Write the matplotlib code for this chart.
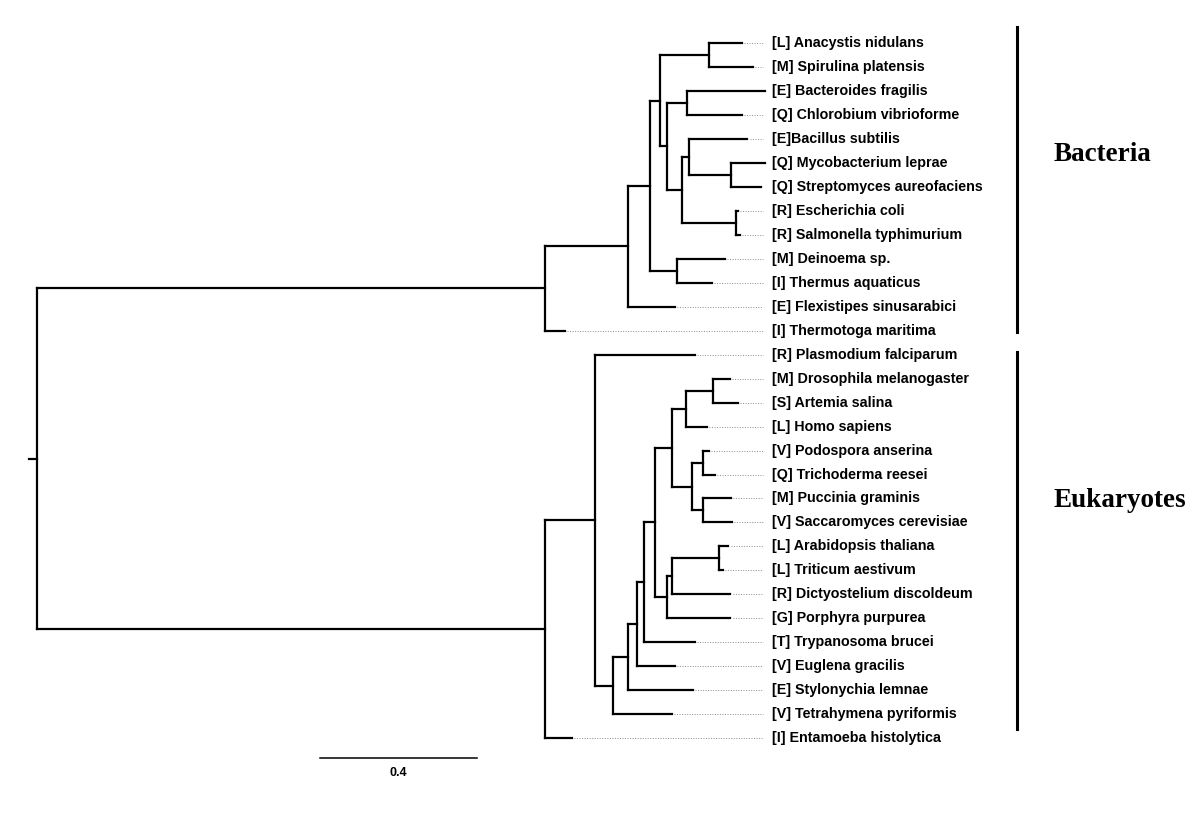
import matplotlib.pyplot as plt

# leaf labels, top to bottom
labels = [
    "[L] Anacystis nidulans", "[M] Spirulina platensis", "[E] Bacteroides fragilis",
    "[Q] Chlorobium vibrioforme", "[E]Bacillus subtilis", "[Q] Mycobacterium leprae",
    "[Q] Streptomyces aureofaciens", "[R] Escherichia coli", "[R] Salmonella typhimurium",
    "[M] Deinoema sp.", "[I] Thermus aquaticus", "[E] Flexistipes sinusarabici",
    "[I] Thermotoga maritima",
    "[R] Plasmodium falciparum", "[M] Drosophila melanogaster", "[S] Artemia salina",
    "[L] Homo sapiens", "[V] Podospora anserina", "[Q] Trichoderma reesei",
    "[M] Puccinia graminis", "[V] Saccaromyces cerevisiae", "[L] Arabidopsis thaliana",
    "[L] Triticum aestivum", "[R] Dictyostelium discoldeum", "[G] Porphyra purpurea",
    "[T] Trypanosoma brucei", "[V] Euglena gracilis", "[E] Stylonychia lemnae",
    "[V] Tetrahymena pyriformis", "[I] Entamoeba histolytica",
]

# branch lengths (newick, leaves in label order)
bacteria_tree = ("(((((ana:0.082,spi:0.110):0.127,((bfr:0.199,chl:0.138):0.051,"
                 "((bsu:0.148,(myc:0.087,str:0.076):0.107):0.018,(eco:0.003,sal:0.008):0.138)"
                 ":0.038):0.020):0.025,(dei:0.122,taq:0.089):0.069):0.056,fle:0.120):0.211,"
                 "tma:0.051):1.294")
animals_fungi = ("(((dme:0.043,asa:0.064):0.069,hsa:0.054):0.036,"
                 "((pan:0.015,tre:0.031):0.028,(pgr:0.071,sce:0.074):0.028):0.051)")
plants_etc = "(((ath:0.023,tae:0.010):0.120,ddi:0.148):0.013,ppu:0.161)"
eukaryote_tree = ("((pfa:0.255,(((((" + animals_fungi + ":0.043," + plants_etc +
                  ":0.031):0.028,tbr:0.130):0.018,egr:0.097):0.023,sty:0.166):0.038,"
                  "tpy:0.150):0.046):0.127,ehi:0.069):1.294")
root_stub = 0.02
scale_len = 0.4
groups = ["Bacteria", "Eukaryotes"]


def parse(s):
    pos = 0

    def node():
        nonlocal pos
        kids = []
        name = None
        if s[pos] == '(':
            pos += 1
            kids.append(node())
            while s[pos] == ',':
                pos += 1
                kids.append(node())
            pos += 1
        else:
            start = pos
            while s[pos] not in ':,)':
                pos += 1
            name = s[start:pos]
        length = 0.0
        if pos < len(s) and s[pos] == ':':
            pos += 1
            start = pos
            while pos < len(s) and s[pos] not in ',)':
                pos += 1
            length = float(s[start:pos])
        return {'name': name, 'kids': kids, 'len': length}

    return node()


fig = plt.figure(figsize=(12, 8.19), dpi=100)
ax = fig.add_axes([0, 0, 1, 1])
ax.axis('off')
ax.set_xlim(-37 / 392.5, 1163 / 392.5)
ax.set_ylim(32.37, -1.794)

lw = 1.6
tips = []
counter = [0]


def draw(n, x0):
    x1 = x0 + n['len']
    if not n['kids']:
        y = counter[0]
        counter[0] += 1
        tips.append((x1, y))
    else:
        ys = [draw(k, x1) for k in n['kids']]
        y = (ys[0] + ys[-1]) / 2
        ax.plot([x1, x1], [ys[0], ys[-1]], color='black', lw=lw, solid_capstyle='projecting')
    ax.plot([x0, x1], [y, y], color='black', lw=lw, solid_capstyle='projecting')
    return y


yb = draw(parse(bacteria_tree), 0)
ye = draw(parse(eukaryote_tree), 0)
ax.plot([0, 0], [yb, ye], color='black', lw=lw, solid_capstyle='projecting')
ax.plot([-root_stub, 0], [(yb + ye) / 2] * 2, color='black', lw=lw)

label_x = 1.873
for (x, y), lab in zip(tips, labels):
    if x < label_x - 0.03:
        ax.plot([x + 0.006, label_x - 0.023], [y, y], color='#8c8c8c', lw=0.7,
                ls=(0, (1.0, 1.6)))
    ax.text(label_x, y, lab, fontsize=10.3, fontweight='bold', family='Liberation Sans',
            va='center', ha='left')

# group bars
bar_x = 2.497
ax.plot([bar_x, bar_x], [-0.65, 12.05], color='black', lw=2.2)
ax.plot([bar_x, bar_x], [12.9, 28.6], color='black', lw=2.2)
ax.text(2.589, 4.67, groups[0], fontsize=19.5, fontweight='bold', family='Liberation Serif',
        va='center', ha='left')
ax.text(2.589, 19.07, groups[1], fontsize=19.5, fontweight='bold', family='Liberation Serif',
        va='center', ha='left')

# scale bar
sx = 0.721
ax.plot([sx, sx + scale_len], [29.83, 29.83], color='black', lw=1.1)
ax.text(sx + scale_len / 2, 30.45, str(scale_len), fontsize=9, fontweight='bold',
        family='Liberation Sans', ha='center', va='center')

fig.savefig('out.png', dpi=100, facecolor='white')
